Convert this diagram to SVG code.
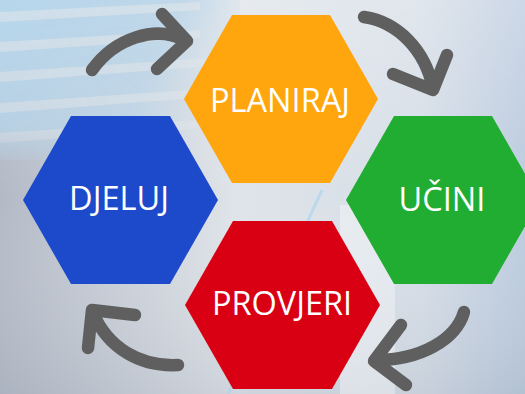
<svg xmlns="http://www.w3.org/2000/svg" width="525" height="394" viewBox="0 0 525 394">
  <defs>
    <linearGradient id="bgH" x1="0" y1="0" x2="1" y2="0">
      <stop offset="0" stop-color="#b3bac6"/>
      <stop offset="0.45" stop-color="#dfe4e9"/>
      <stop offset="0.8" stop-color="#d6dee7"/>
      <stop offset="1" stop-color="#bccbdf"/>
    </linearGradient>
    <linearGradient id="bgV" x1="0" y1="0" x2="0" y2="1">
      <stop offset="0" stop-color="#ffffff" stop-opacity="0.25"/>
      <stop offset="0.5" stop-color="#ffffff" stop-opacity="0"/>
      <stop offset="1" stop-color="#8f98a8" stop-opacity="0.2"/>
    </linearGradient>
    <linearGradient id="blinds" x1="0" y1="0" x2="1" y2="0.3">
      <stop offset="0" stop-color="#b6d6ec" stop-opacity="1"/>
      <stop offset="0.7" stop-color="#b9d5ea" stop-opacity="0.8"/>
      <stop offset="1" stop-color="#c6dbea" stop-opacity="0"/>
    </linearGradient>
    <linearGradient id="blindsFade" x1="0" y1="0" x2="0" y2="1">
      <stop offset="0" stop-color="#ffffff" stop-opacity="1"/>
      <stop offset="0.75" stop-color="#ffffff" stop-opacity="0.8"/>
      <stop offset="1" stop-color="#ffffff" stop-opacity="0"/>
    </linearGradient>
    <mask id="fadeMask">
      <rect x="0" y="0" width="260" height="170" fill="url(#blindsFade)"/>
    </mask>
  </defs>
  <style>
    .hex { stroke: none; }
    .lbl { font-family: "Open Sans", "Liberation Sans", sans-serif; font-size: 32.5px; fill: #ffffff; text-anchor: middle; }
    .arrow { fill: none; stroke: #5f5f5f; stroke-width: 12.5; stroke-linecap: round; stroke-linejoin: round; }
  </style>

  <!-- background -->
  <rect x="0" y="0" width="525" height="394" fill="url(#bgH)"/>
  <rect x="0" y="0" width="525" height="394" fill="url(#bgV)"/>
  <g mask="url(#fadeMask)">
    <rect x="0" y="0" width="240" height="160" fill="url(#blinds)"/>
    <g fill="#dfe5ea" opacity="0.6">
      <polygon points="0,12 200,2 200,10 0,22"/>
      <polygon points="0,42 200,30 200,38 0,52"/>
      <polygon points="0,72 210,58 210,66 0,82"/>
      <polygon points="0,103 220,88 220,96 0,113"/>
      <polygon points="0,133 230,118 230,126 0,143"/>
    </g>
  </g>
  <rect x="340" y="205" width="55" height="189" fill="#ffffff" opacity="0.35"/>
  <line x1="322" y1="190" x2="228" y2="394" stroke="#a9d3ee" stroke-width="3" opacity="0.6"/>

  <!-- nodes -->
  <g id="node-planiraj">
    <polygon class="hex" fill="#ffa50d" points="184,99 232,15 330,15 378,99 330,183 232,183"/>
    <text class="lbl" x="280" y="112">PLANIRAJ</text>
  </g>
  <g id="node-ucini">
    <polygon class="hex" fill="#21ad31" points="346,200 394,116 492,116 540,200 492,284 394,284"/>
    <text class="lbl" x="442" y="211">UČINI</text>
  </g>
  <g id="node-provjeri">
    <polygon class="hex" fill="#d90013" points="185,305 233,221 332,221 380,305 332,389 233,389"/>
    <text class="lbl" x="282" y="315">PROVJERI</text>
  </g>
  <g id="node-djeluj">
    <polygon class="hex" fill="#1c4acb" points="23,200 71,116 170,116 218,200 170,284 71,284"/>
    <text class="lbl" x="119" y="210">DJELUJ</text>
  </g>

  <!-- connectors -->
  <g id="connectors">
    <path class="arrow" d="M92,70 C115,38 155,25 185,40"/>
    <path class="arrow" d="M162,14 L187,41 L157,69"/>

    <path class="arrow" d="M364,17 C398,22 425,50 433,88"/>
    <path class="arrow" d="M447,55 L433,90 L393,74"/>

    <path class="arrow" d="M464,312 C456,340 420,360 376,360"/>
    <path class="arrow" d="M401,325 L374,361 L406,385"/>

    <path class="arrow" d="M178,365 C140,367 108,348 93,313"/>
    <path class="arrow" d="M135,315 L92,310 L88,348"/>
  </g>
</svg>
